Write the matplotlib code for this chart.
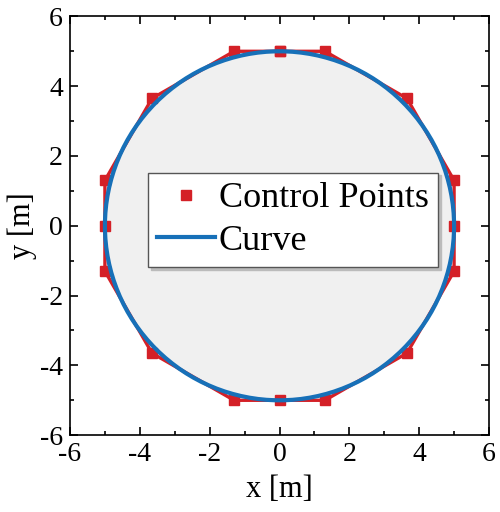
import matplotlib
matplotlib.use('Agg')
import matplotlib.pyplot as plt
from matplotlib.patches import Circle

# control polygon (closed)
ctrl_x = [0, 1.3, 3.65, 5, 5, 5, 3.65, 1.3, 0, -1.3, -3.65, -5, -5, -5, -3.65, -1.3, 0]
ctrl_y = [5, 5, 3.65, 1.3, 0, -1.3, -3.65, -5, -5, -5, -3.65, -1.3, 0, 1.3, 3.65, 5, 5]
radius = 5.0
ticks = [-6, -4, -2, 0, 2, 4, 6]

plt.rcParams['font.family'] = ['Liberation Serif', 'DejaVu Serif']
plt.rcParams['font.size'] = 20
plt.rcParams['axes.unicode_minus'] = False

red = '#d42027'
blue = '#1770b8'

fig = plt.figure(figsize=(5, 5.12), dpi=100)
ax = fig.add_axes([0.14, 0.15, 0.838, 0.818])

ax.add_patch(Circle((0, 0), radius, facecolor='#f0f0f0', edgecolor='none', zorder=1))
ax.plot(ctrl_x, ctrl_y, color=red, lw=2.4, zorder=2)
ax.plot(ctrl_x, ctrl_y, 's', color=red, ms=7, ls='none', zorder=3, label='Control Points')
curve = Circle((0, 0), radius, facecolor='none', edgecolor=blue, lw=3, zorder=4)
ax.add_patch(curve)
ax.plot([], [], color=blue, lw=3, label='Curve')

ax.set_xlim(-6, 6)
ax.set_ylim(-6, 6)
ax.set_xticks(ticks)
ax.set_yticks(ticks)
ax.set_xticks([-5, -3, -1, 1, 3, 5], minor=True)
ax.set_yticks([-5, -3, -1, 1, 3, 5], minor=True)
ax.tick_params(which='both', direction='in', top=True, right=True)
ax.tick_params(which='major', length=6, width=1.2, pad=5)
ax.tick_params(which='minor', length=3, width=1.2)
for s in ax.spines.values():
    s.set_linewidth(1.2)
ax.set_xlabel('x [m]', fontsize=22, labelpad=6)
ax.set_ylabel('y [m]', fontsize=22, labelpad=2)

leg = ax.legend(loc='upper left', bbox_to_anchor=(0.186, 0.627), frameon=True,
                shadow={'color': '#bbbbbb', 'alpha': 1}, fancybox=False, fontsize=26,
                handlelength=1.6, handletextpad=0.1, borderpad=0.26,
                borderaxespad=0, labelspacing=0.25)
leg.get_frame().set_edgecolor('#555555')
leg.get_frame().set_linewidth(1.0)

fig.savefig('out.png', dpi=100)
